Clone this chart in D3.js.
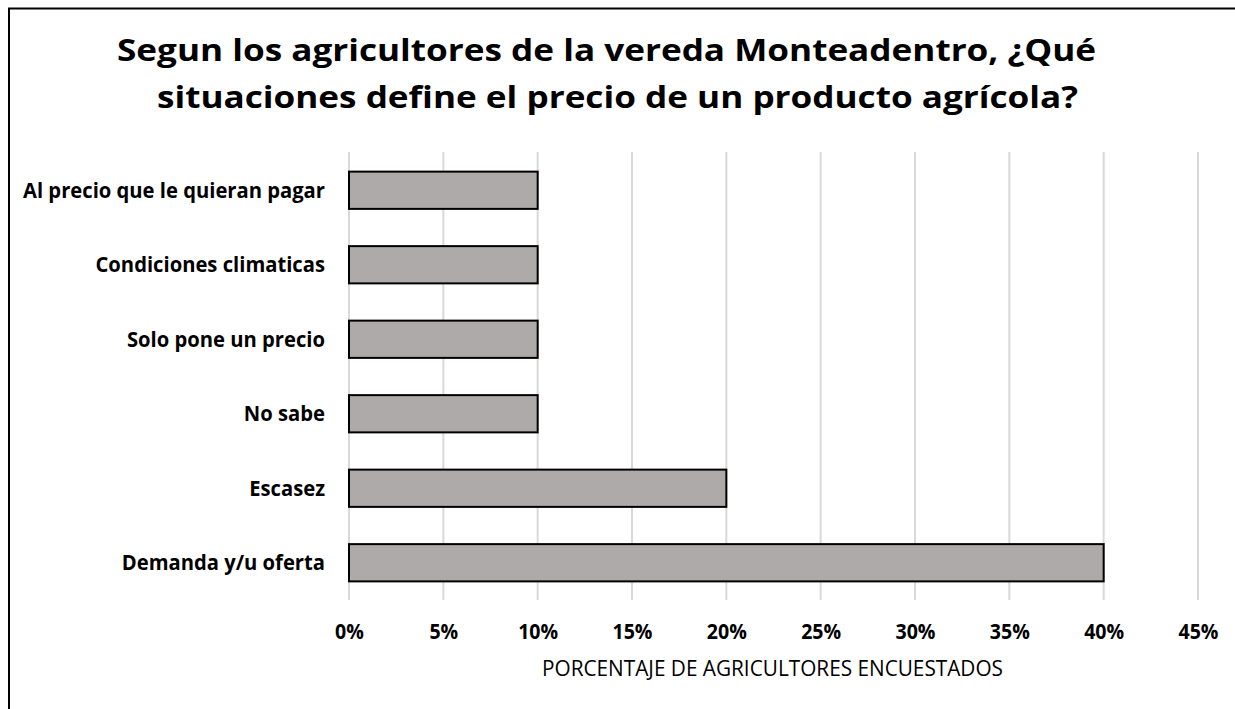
<!DOCTYPE html>
<html>
<head>
<meta charset="utf-8">
<script src="https://cdn.jsdelivr.net/npm/d3@7/dist/d3.min.js"></script>
<style>
  html, body { margin: 0; padding: 0; background: #fff; }
  svg { display: block; }
  text { font-family: "Open Sans", "Noto Sans", sans-serif; fill: #000; }
</style>
</head>
<body>
<svg id="chart" width="1235" height="709"></svg>
<script>
const titleLines = [
  "Segun los agricultores de la vereda Monteadentro, ¿Qué",
  "situaciones define el precio de un producto agrícola?"
];
const categories = [
  "Al precio que le quieran pagar",
  "Condiciones climaticas",
  "Solo pone un precio",
  "No sabe",
  "Escasez",
  "Demanda y/u oferta"
];
const values = [10, 10, 10, 10, 20, 40];
const tickValues = [0, 5, 10, 15, 20, 25, 30, 35, 40, 45];
const axisTitle = "PORCENTAJE DE AGRICULTORES ENCUESTADOS";

const svg = d3.select("#chart");

// frame (only left and top edges visible in the reference)
svg.append("rect")
  .attr("x", 9).attr("y", 8.5)
  .attr("width", 1400).attr("height", 900)
  .attr("fill", "none").attr("stroke", "#000").attr("stroke-width", 2);

const x = d3.scaleLinear().domain([0, 45]).range([349, 1198]);
const y = d3.scaleBand().domain(categories).range([153, 600])
  .paddingInner(0.5).paddingOuter(0.25);

// horizontal compression factor so text at `size` has the width it would at fitted size
function squeeze(str, weight, target, size) {
  const t = svg.append("text").attr("font-size", size).attr("font-weight", weight).text(str);
  const w = t.node().getComputedTextLength();
  t.remove();
  return target / w;
}
function compress(sel, k) {
  sel.each(function () {
    const w = this.getComputedTextLength();
    d3.select(this).attr("textLength", w * k).attr("lengthAdjust", "spacingAndGlyphs");
  });
}

// gridlines
svg.append("g").selectAll("line").data(tickValues).join("line")
  .attr("x1", d => x(d)).attr("x2", d => x(d))
  .attr("y1", 152).attr("y2", 600)
  .attr("stroke", "#d9d9d9").attr("stroke-width", 2);

// bars
svg.append("g").selectAll("rect").data(categories).join("rect")
  .attr("x", x(0))
  .attr("y", d => y(d))
  .attr("width", (d, i) => x(values[i]) - x(0))
  .attr("height", y.bandwidth())
  .attr("fill", "#aeaaaa")
  .attr("stroke", "#000").attr("stroke-width", 2);

// category labels
const catSize = 21.5;
const catK = squeeze(categories[0], "bold", 302, catSize);
const cats = svg.append("g").selectAll("text").data(categories).join("text")
  .attr("x", 325)
  .attr("y", d => y(d) + y.bandwidth() / 2 + catSize * 0.357)
  .attr("text-anchor", "end")
  .attr("font-size", catSize)
  .attr("font-weight", "bold")
  .text(d => d);
compress(cats, catK);

// x axis tick labels
const tickSize = 20.5;
const tickK = squeeze("10%", "bold", 40, tickSize);
const xAxis = d3.axisBottom(x).tickValues(tickValues).tickSize(0).tickPadding(0)
  .tickFormat(d => d + "%");
const gx = svg.append("g").call(xAxis);
gx.select(".domain").remove();
gx.selectAll("text")
  .attr("y", 639).attr("dy", null)
  .attr("font-size", tickSize)
  .attr("font-weight", "bold")
  .attr("font-family", "'Open Sans', sans-serif")
  .attr("fill", "#000");
compress(gx.selectAll("text"), tickK);

// axis title
const atSize = 21;
const atK = squeeze(axisTitle, "normal", 461, atSize);
const at = svg.append("text")
  .attr("x", 772.5).attr("y", 675.5)
  .attr("text-anchor", "middle")
  .attr("font-size", atSize)
  .text(axisTitle);
compress(at, atK);

// title
const tSize = 30;
const tK = squeeze(titleLines[1], "bold", 921, tSize);
const t1 = svg.append("text")
  .attr("x", 606.5).attr("y", 61)
  .attr("text-anchor", "middle")
  .attr("font-size", tSize).attr("font-weight", "bold")
  .text(titleLines[0]);
const t2 = svg.append("text")
  .attr("x", 617.5).attr("y", 108)
  .attr("text-anchor", "middle")
  .attr("font-size", tSize).attr("font-weight", "bold")
  .text(titleLines[1]);
compress(t1, tK);
compress(t2, tK);
</script>
</body>
</html>
